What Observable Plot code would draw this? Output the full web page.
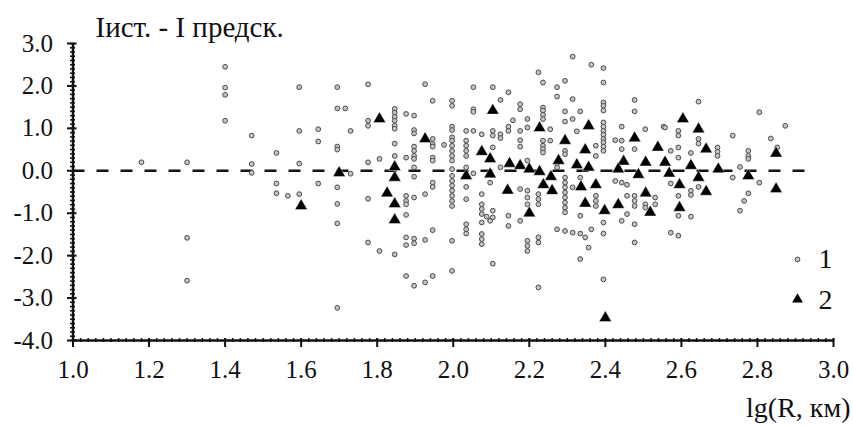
<!DOCTYPE html>
<html><head><meta charset="utf-8">
<script src="https://cdn.jsdelivr.net/npm/d3@7"></script>
<script src="https://cdn.jsdelivr.net/npm/@observablehq/plot@0.6"></script>
<style>
body{margin:0;background:#fff}
svg{display:block}
</style>
</head><body><div id="chart"></div>
<script>
// Series 1 (open circles): [lg R, Iист - Iпредск]
const series1 = [
[1.18,0.2],
[1.30,0.2],[1.30,-1.58],[1.30,-2.59],
[1.40,2.45],[1.40,1.96],[1.40,1.79],[1.40,1.18],
[1.47,0.83],[1.47,0.16],[1.47,-0.05],
[1.535,0.42],[1.535,-0.30],[1.535,-0.53],[1.565,-0.59],
[1.595,1.97],[1.595,0.94],[1.595,0.17],[1.595,-0.55],
[1.645,0.98],[1.645,0.69],[1.645,-0.30],
[1.695,1.97],[1.695,1.47],[1.695,0.57],[1.695,0.50],[1.695,-0.39],[1.695,-0.78],[1.695,-1.24],[1.695,-3.23],
[1.716,1.47],[1.73,0.94],[1.73,-0.07],
[1.776,2.04],[1.776,1.18],[1.776,1.06],[1.776,0.20],[1.776,-0.66],[1.776,-1.69],
[1.806,0.28],[1.806,-1.89],
[1.846,1.46],[1.846,1.37],[1.846,1.27],[1.846,1.18],[1.846,1.06],[1.846,0.99],[1.846,0.64],[1.846,0.35],[1.846,-1.97],
[1.876,1.34],[1.876,0.31],[1.876,-0.59],[1.876,-0.71],[1.876,-0.79],[1.876,-1.04],[1.876,-1.57],[1.876,-1.75],[1.876,-2.48],
[1.897,1.30],[1.897,0.96],[1.897,0.88],[1.897,0.57],[1.897,0.47],[1.897,0.35],[1.897,0.28],[1.897,0.08],[1.897,-0.14],[1.897,-0.63],[1.897,-1.60],[1.897,-1.71],[1.897,-2.71],
[1.926,2.04],[1.926,-0.55],[1.926,-1.63],[1.926,-2.63],
[1.946,1.65],[1.946,0.75],[1.946,0.63],[1.946,0.57],[1.946,0.31],[1.946,0.24],[1.946,-0.28],[1.946,-0.38],[1.946,-1.40],[1.946,-2.48],
[1.976,0.61],
[1.997,1.65],[1.997,1.53],[1.997,1.04],[1.997,0.96],[1.997,0.79],[1.997,0.71],[1.997,0.59],[1.997,0.47],[1.997,0.35],[1.997,0.24],[1.997,0.04],[1.997,-0.12],[1.997,-0.24],[1.997,-0.35],[1.997,-0.47],[1.997,-0.59],[1.997,-0.71],[1.997,-0.83],[1.997,-1.65],[1.997,-2.36],
[2.034,0.94],[2.034,0.71],[2.034,0.59],[2.034,0.47],[2.034,0.35],[2.034,0.08],[2.034,-0.38],[2.034,-0.67],[2.034,-1.26],[2.034,-1.38],[2.034,-1.48],
[2.053,1.97],[2.053,1.45],[2.053,1.39],[2.053,0.94],[2.053,-0.06],
[2.075,0.86],[2.075,-0.55],[2.075,-0.79],[2.075,-0.90],[2.075,-1.02],[2.075,-1.22],[2.075,-1.49],[2.075,-1.61],[2.075,-1.73],
[2.088,-1.08],[2.097,-0.28],[2.097,-1.18],
[2.104,1.97],[2.104,0.94],[2.104,0.83],[2.104,0.55],[2.104,-0.94],[2.104,-1.10],[2.104,-2.19],
[2.124,1.67],[2.124,0.86],[2.124,0.77],[2.124,0.08],
[2.145,1.85],[2.145,1.04],[2.145,0.94],[2.145,-1.06],[2.145,-1.30],[2.157,1.19],
[2.176,1.57],[2.176,1.45],[2.176,0.94],[2.176,0.72],[2.176,0.57],[2.176,-0.43],[2.176,-1.18],
[2.195,1.22],[2.195,1.02],[2.195,0.24],[2.195,-0.47],[2.195,-0.63],[2.195,-0.79],[2.195,-1.65],[2.195,-1.77],[2.195,-1.89],
[2.224,2.32],[2.224,-0.55],[2.224,-0.67],[2.224,-0.79],[2.224,-1.57],[2.224,-1.69],[2.224,-2.75],
[2.236,2.08],[2.236,1.49],[2.236,1.42],[2.236,1.32],[2.236,1.22],[2.236,0.71],[2.236,0.59],[2.236,0.51],[2.236,0.43],
[2.255,0.98],[2.255,0.71],
[2.273,1.97],[2.273,1.75],[2.273,0.17],[2.273,0.08],[2.273,-1.38],
[2.294,2.12],[2.294,1.40],[2.294,1.16],[2.294,0.47],[2.294,0.39],[2.294,-0.16],[2.294,-0.28],[2.294,-0.39],[2.294,-0.51],[2.294,-0.63],[2.294,-0.75],[2.294,-0.87],[2.294,-0.98],[2.294,-1.42],
[2.314,2.69],[2.314,1.69],[2.314,1.22],[2.314,-0.39],[2.314,-1.46],[2.325,0.93],
[2.334,1.40],[2.334,-0.16],[2.334,-1.06],[2.334,-1.48],[2.334,-2.08],
[2.347,-1.57],[2.356,-1.81],[2.363,2.50],[2.363,-1.38],
[2.375,0.59],[2.375,0.35],[2.375,-0.59],[2.375,-0.71],[2.375,-0.83],
[2.395,2.42],[2.395,2.08],[2.395,1.61],[2.395,1.53],[2.395,1.42],[2.395,1.14],[2.395,1.04],[2.395,0.94],[2.395,0.85],[2.395,0.75],[2.395,0.67],[2.395,0.57],[2.395,0.47],[2.395,-1.22],[2.395,-1.48],[2.395,-2.56],
[2.426,0.72],[2.426,-0.24],
[2.443,1.04],[2.443,0.71],[2.443,0.51],[2.443,-0.28],[2.443,-1.18],
[2.457,-0.33],[2.457,-0.59],[2.457,-1.02],
[2.477,1.67],[2.477,1.40],[2.477,0.51],[2.477,-0.59],[2.477,-0.71],[2.477,-0.83],[2.477,-1.26],[2.477,-1.69],
[2.505,0.98],[2.505,-0.79],[2.505,-0.87],
[2.531,-0.63],[2.531,-0.79],[2.553,1.04],[2.557,1.02],
[2.572,0.47],[2.572,-0.30],[2.572,-1.46],
[2.592,0.94],[2.592,0.83],[2.592,0.55],[2.592,0.31],[2.592,-0.59],[2.592,-1.06],[2.592,-1.53],
[2.625,0.42],[2.625,-0.47],[2.625,-0.57],[2.625,-1.08],
[2.645,1.63],[2.645,0.75],[2.645,0.64],[2.645,-0.38],
[2.695,0.55],[2.695,0.45],[2.695,0.35],
[2.735,0.83],[2.735,-0.16],[2.754,0.09],[2.754,-0.94],
[2.776,0.47],[2.776,0.35],[2.776,0.28],[2.776,-0.53],[2.765,-0.71],
[2.805,1.38],[2.805,-0.28],[2.835,0.76],[2.852,0.55],[2.873,1.06]
];
// Series 2 (black triangles)
const series2 = [
[1.60,-0.83],[1.70,-0.05],[1.806,1.22],[1.846,0.09],[1.846,-0.16],[1.826,-0.53],[1.846,-0.78],[1.846,-1.16],
[1.926,0.75],[2.034,-0.12],[2.075,0.45],[2.097,0.28],[2.097,-0.08],[2.104,1.42],[2.148,0.17],[2.143,-0.46],
[2.176,0.12],[2.20,0.04],[2.20,-1.0],[2.227,1.01],[2.227,-0.02],[2.237,-0.33],[2.257,-0.14],[2.26,-0.47],
[2.356,1.06],[2.294,0.71],[2.277,0.24],[2.325,0.14],[2.347,0.49],[2.356,0.08],[2.336,-0.38],[2.347,-0.77],
[2.375,-0.33],[2.398,-0.94],[2.40,-3.47],[2.448,0.22],[2.434,0.04],[2.434,-0.80],[2.477,0.77],[2.487,-0.09],
[2.506,0.20],[2.506,-0.53],[2.518,-0.98],[2.538,0.55],[2.557,0.20],[2.604,1.22],[2.645,0.98],[2.665,0.51],
[2.568,-0.06],[2.625,0.12],[2.645,-0.16],[2.595,-0.33],[2.665,-0.49],[2.595,-0.87],[2.697,0.04],[2.776,-0.12],
[2.849,0.41],[2.849,-0.43]
];
const xTicks = [1.0,1.2,1.4,1.6,1.8,2.0,2.2,2.4,2.6,2.8,3.0];
const yTicks = [-4.0,-3.0,-2.0,-1.0,0.0,1.0,2.0,3.0];
const xMinor = d3.range(0, 101).map(i => 1 + i * 0.02);
const yMinor = d3.range(0, 71).map(i => -4 + i * 0.1);
const titleText = "Iист. - I предск.";
const xLabel = "lg(R, км)";
const legendLabels = ["1", "2"];
const zeroLine = {value: 0, from: 1.0, to: 2.95};

const W = 853, H = 428, mL = 72.5, mR = 20, mT = 43, mB = 88;
const frameW = W - mL - mR, frameH = H - mT - mB;
const font = "'Liberation Serif', 'Times New Roman', serif";
const fmt = d => d.toFixed(1);
const ink = "#111";
const circleStyle = {fill: "#c4c4c4", stroke: "#4a4a4a", strokeWidth: 1};

const chart = Plot.plot({
  width: W, height: H,
  marginLeft: mL, marginRight: mR, marginTop: mT, marginBottom: mB,
  x: {domain: [1.0, 3.0]},
  y: {domain: [-4.0, 3.0]},
  style: {background: "#fff", color: ink, fontFamily: font},
  marks: [
    Plot.ruleY([zeroLine.value], {x1: zeroLine.from, x2: zeroLine.to, stroke: ink, strokeWidth: 2.6, strokeDasharray: "12,12"}),
    Plot.dot(series1, {x: d => d[0], y: d => d[1], r: 2.4, ...circleStyle}),
    Plot.dot(series2, {x: d => d[0], y: d => d[1], symbol: "triangle", r: 4.6, fill: "#000", stroke: "#fff", strokeWidth: 0.4}),
    // axis lines
    Plot.ruleX([1.0], {stroke: ink, strokeWidth: 2.5}),
    Plot.ruleY([-4.0], {stroke: ink, strokeWidth: 2.5}),
    // y ticks (short rules straddling the y axis)
    Plot.ruleY(yMinor, {y: d => d, insetLeft: -2.5, insetRight: frameW - 2.5, stroke: ink, strokeWidth: 1.5}),
    Plot.ruleY(yTicks, {y: d => d, insetLeft: -5.5, insetRight: frameW - 4, stroke: ink, strokeWidth: 2}),
    // x ticks (short rules straddling the x axis)
    Plot.ruleX(xMinor, {x: d => d, insetTop: frameH - 2, insetBottom: -2, stroke: ink, strokeWidth: 1.5}),
    Plot.ruleX(xTicks, {x: d => d, insetTop: frameH - 2, insetBottom: -7, stroke: ink, strokeWidth: 2}),
    // tick labels
    Plot.axisY(yTicks, {tickSize: 0, tickPadding: 20, tickFormat: fmt, label: null, fontSize: 25, fill: ink}),
    Plot.axisX(xTicks, {tickSize: 0, tickPadding: 20, tickFormat: fmt, label: null, fontSize: 25, fill: ink}),
    // title and axis label
    Plot.text([titleText], {x: null, y: null, text: d => d, frameAnchor: "top-left", dx: 22.5, dy: -7, textAnchor: "start", lineAnchor: "bottom", fontSize: 29, fill: ink}),
    Plot.text([xLabel], {x: null, y: null, text: d => d, frameAnchor: "bottom-right", dx: 17, dy: 76, textAnchor: "end", lineAnchor: "bottom", fontSize: 28, fill: ink}),
    // legend
    Plot.dot([legendLabels[0]], {x: null, y: null, frameAnchor: "bottom-right", dx: -36, dy: -81, r: 2.4, ...circleStyle}),
    Plot.dot([legendLabels[1]], {x: null, y: null, frameAnchor: "bottom-right", dx: -36, dy: -41, symbol: "triangle", r: 4, fill: "#000"}),
    Plot.text([legendLabels[0]], {x: null, y: null, text: d => d, frameAnchor: "bottom-right", dx: -15, dy: -81, textAnchor: "start", lineAnchor: "middle", fontSize: 28, fill: ink}),
    Plot.text([legendLabels[1]], {x: null, y: null, text: d => d, frameAnchor: "bottom-right", dx: -15, dy: -40, textAnchor: "start", lineAnchor: "middle", fontSize: 28, fill: ink})
  ]
});
document.getElementById("chart").appendChild(chart);
</script>
</body></html>
